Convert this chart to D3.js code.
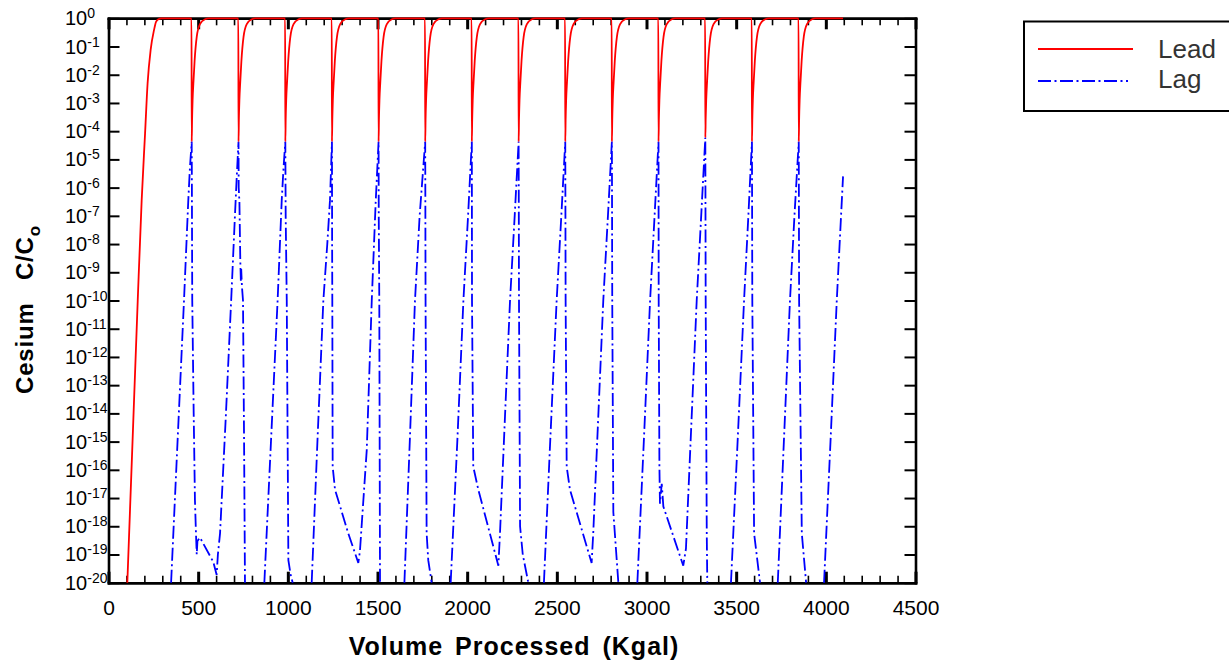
<!DOCTYPE html>
<html>
<head>
<meta charset="utf-8">
<script src="https://cdn.jsdelivr.net/npm/d3@7"></script>
<style>
  body { margin: 0; background: #fff; }
  svg { display: block; font-family: "Liberation Sans", Arial, sans-serif; }
</style>
</head>
<body>
<div id="chart"></div>
<script>
// x ticks (Kgal) and y ticks (decades)
const xTicks = [0, 500, 1000, 1500, 2000, 2500, 3000, 3500, 4000, 4500];
const yTicks = [1e0, 1e-1, 1e-2, 1e-3, 1e-4, 1e-5, 1e-6, 1e-7, 1e-8, 1e-9, 1e-10,
                1e-11, 1e-12, 1e-13, 1e-14, 1e-15, 1e-16, 1e-17, 1e-18, 1e-19, 1e-20];
const seriesNames = ['Lead', 'Lag'];

// Lead column C/Co, [Kgal, value]
const lead = [
  [105, 1e-20], [134, 1e-15], [163, 1e-10], [185, 3.6e-7], [204, 8.5e-5], [218, 5e-3], [235, 7.6e-2], [254, 0.39], [265, 0.75], [278, 0.93], [295, 1],
  [463, 1], [464, 4.3e-5], [466, 2.5e-4], [469, 1.3e-3], [474, 6e-3], [480, 3e-2], [492, 0.22], [510, 0.62], [538, 0.93], [559, 1],
  [724, 1], [725, 4.3e-5], [727, 2.5e-4], [730, 1.3e-3], [735, 6e-3], [741, 3e-2], [753, 0.22], [771, 0.62], [799, 0.93], [820, 1],
  [985, 1], [986, 4.3e-5], [988, 2.5e-4], [991, 1.3e-3], [996, 6e-3], [1002, 3e-2], [1014, 0.22], [1032, 0.62], [1060, 0.93], [1081, 1],
  [1245, 1], [1246, 4.3e-5], [1248, 2.5e-4], [1251, 1.3e-3], [1256, 6e-3], [1262, 3e-2], [1274, 0.22], [1292, 0.62], [1320, 0.93], [1341, 1],
  [1505, 1], [1506, 4.3e-5], [1508, 2.5e-4], [1511, 1.3e-3], [1516, 6e-3], [1522, 3e-2], [1534, 0.22], [1552, 0.62], [1580, 0.93], [1601, 1],
  [1765, 1], [1766, 4.3e-5], [1768, 2.5e-4], [1771, 1.3e-3], [1776, 6e-3], [1782, 3e-2], [1794, 0.22], [1812, 0.62], [1840, 0.93], [1861, 1],
  [2025, 1], [2026, 4.3e-5], [2028, 2.5e-4], [2031, 1.3e-3], [2036, 6e-3], [2042, 3e-2], [2054, 0.22], [2072, 0.62], [2100, 0.93], [2121, 1],
  [2286, 1], [2287, 4.3e-5], [2289, 2.5e-4], [2292, 1.3e-3], [2297, 6e-3], [2303, 3e-2], [2315, 0.22], [2333, 0.62], [2361, 0.93], [2382, 1],
  [2546, 1], [2547, 4.3e-5], [2549, 2.5e-4], [2552, 1.3e-3], [2557, 6e-3], [2563, 3e-2], [2575, 0.22], [2593, 0.62], [2621, 0.93], [2642, 1],
  [2806, 1], [2807, 4.3e-5], [2809, 2.5e-4], [2812, 1.3e-3], [2817, 6e-3], [2823, 3e-2], [2835, 0.22], [2853, 0.62], [2881, 0.93], [2902, 1],
  [3066, 1], [3067, 4.3e-5], [3069, 2.5e-4], [3072, 1.3e-3], [3077, 6e-3], [3083, 3e-2], [3095, 0.22], [3113, 0.62], [3141, 0.93], [3162, 1],
  [3327, 1], [3328, 6e-5], [3330, 2.8e-4], [3333, 1.3e-3], [3338, 6e-3], [3344, 3e-2], [3356, 0.22], [3374, 0.62], [3402, 0.93], [3423, 1],
  [3587, 1], [3588, 4.3e-5], [3590, 2.5e-4], [3593, 1.3e-3], [3598, 6e-3], [3604, 3e-2], [3616, 0.22], [3634, 0.62], [3662, 0.93], [3683, 1],
  [3848, 1], [3849, 4.3e-5], [3851, 2.5e-4], [3854, 1.3e-3], [3859, 6e-3], [3865, 3e-2], [3877, 0.22], [3895, 0.62], [3923, 0.93], [3944, 1],
  [4096, 1]
];

// Lag column C/Co, [Kgal, value]; 1e-24 = below the plotted range
const lag = [
  [349, 1e-20], [385, 1e-15], [421, 1e-10], [445, 3.6e-7], [454, 5e-6], [464, 4.3e-5],
  [465, 1e-6], [467, 1e-10], [475, 1e-14], [482, 8.5e-18], [488, 5e-19], [492, 1e-19], [496, 3e-19], [510, 4e-19], [584, 5.5e-20], [603, 1.9e-20],
  [610, 1e-19], [622, 5.6e-19], [655, 1e-14], [684, 1e-10], [705, 1e-7], [716, 3.2e-6], [725, 4.3e-5],
  [726, 1e-6], [730, 3.2e-7], [735, 2.5e-9], [738, 5e-10], [740, 1.3e-9], [744, 3.2e-10], [750, 1e-10], [756, 1e-15], [761, 1e-20],
  [800, 1e-24],
  [869, 1e-20], [906, 1e-15], [943, 1e-10], [966, 3.6e-7], [976, 5e-6], [986, 4.3e-5],
  [988, 1e-7], [994, 1e-10], [1003, 6.3e-20], [1015, 2e-20], [1027, 1e-20],
  [1080, 1e-24],
  [1133, 1e-20], [1165, 1e-15], [1198, 1e-10], [1220, 1e-8], [1235, 3.6e-7], [1246, 4.3e-5],
  [1247, 1e-8], [1248, 1e-10], [1250, 1.3e-16], [1263, 2e-17], [1337, 5.6e-19], [1393, 5e-20], [1402, 1.3e-19], [1440, 5e-16], [1468, 1e-10], [1490, 3.2e-7], [1506, 4.3e-5],
  [1507, 1e-7], [1510, 1e-10], [1514, 1e-20],
  [1580, 1e-24],
  [1650, 1e-20], [1680, 1e-15], [1709, 1e-10], [1735, 1e-7], [1766, 4.3e-5],
  [1767, 1e-7], [1768, 1e-10], [1774, 5.6e-19], [1783, 6.3e-20], [1802, 1e-20],
  [1850, 1e-24],
  [1908, 1e-20], [1945, 1e-15], [1979, 1e-10], [2005, 1e-7], [2026, 4.3e-5],
  [2027, 1e-10], [2034, 1.3e-16], [2062, 2e-17], [2174, 4e-20], [2183, 5.6e-19], [2211, 8e-15], [2239, 1e-10], [2265, 1e-7], [2287, 4.3e-5],
  [2288, 1e-7], [2289, 1e-10], [2295, 1e-18], [2310, 1e-19], [2341, 1e-20],
  [2380, 1e-24],
  [2428, 1e-20], [2463, 1e-15], [2499, 1e-10], [2525, 1e-7], [2547, 4.3e-5],
  [2548, 1e-7], [2549, 1e-10], [2555, 1.3e-16], [2573, 2e-17], [2694, 5e-20], [2703, 5.6e-19], [2759, 1e-10], [2785, 1e-7], [2807, 4.3e-5],
  [2808, 1e-7], [2809, 1e-10], [2815, 3.2e-18], [2843, 1e-20],
  [2900, 1e-24],
  [2949, 1e-20], [2985, 1e-15], [3020, 1e-10], [3045, 1e-7], [3067, 4.3e-5],
  [3068, 1e-10], [3072, 1.3e-16], [3075, 6.3e-18], [3085, 3.2e-17], [3094, 5e-18], [3205, 4e-20], [3220, 1.6e-19], [3280, 1e-10], [3305, 1e-7], [3328, 6e-5],
  [3329, 1e-7], [3330, 1e-10], [3336, 5.6e-19], [3339, 1e-20],
  [3400, 1e-24],
  [3471, 1e-20], [3508, 1e-15], [3544, 1e-10], [3568, 1e-7], [3588, 4.3e-5],
  [3589, 1e-7], [3590, 1e-10], [3600, 5.6e-19], [3633, 1e-20],
  [3680, 1e-24],
  [3732, 1e-20], [3766, 1e-15], [3800, 1e-10], [3825, 1e-7], [3849, 4.3e-5],
  [3850, 1e-7], [3851, 1e-10], [3866, 5.6e-19], [3890, 1e-20],
  [3940, 1e-24],
  [3990, 1e-20], [4026, 1e-15], [4061, 1e-10], [4096, 2.5e-6]
];

const width = 1229;
const height = 670;
const margin = {top: 18.3, right: 313.5, bottom: 87.3, left: 108.5};

const svg = d3.create('svg')
  .attr('width', width)
  .attr('height', height);

const x = d3.scaleLinear()
  .domain([0, 4500])
  .range([margin.left, width - margin.right]);

const y = d3.scaleLog()
  .domain([1e-20, 1])
  .range([height - margin.bottom, margin.top]);

const x0 = x.range()[0], x1 = x.range()[1];
const yb = y.range()[0], yt = y.range()[1];

function styleAxis(g, tickWidth) {
  g.select('.domain').attr('stroke', '#000').attr('stroke-width', 2.6).attr('stroke-linecap', 'square');
  g.selectAll('.tick line').attr('stroke', '#000').attr('stroke-width', tickWidth);
}

// minor x ticks (bottom + top)
svg.append('g')
  .attr('transform', `translate(0,${yb})`)
  .call(d3.axisBottom(x).tickValues(x.ticks(45)).tickSize(-7).tickSizeOuter(0).tickFormat(''))
  .call(g => styleAxis(g, 1.6));
svg.append('g')
  .attr('transform', `translate(0,${yt})`)
  .call(d3.axisTop(x).tickValues(x.ticks(45)).tickSize(-7).tickSizeOuter(0).tickFormat(''))
  .call(g => styleAxis(g, 1.6));

// major x ticks
svg.append('g')
  .attr('transform', `translate(0,${yb})`)
  .call(d3.axisBottom(x).tickValues(xTicks).tickSize(-11).tickSizeOuter(0).tickPadding(17.4).tickFormat(d3.format('d')))
  .call(g => styleAxis(g, 3))
  .call(g => g.selectAll('.tick text').attr('font-size', 21).attr('font-family', '"Liberation Sans", Arial, sans-serif').attr('fill', '#000'));
svg.append('g')
  .attr('transform', `translate(0,${yt})`)
  .call(d3.axisTop(x).tickValues(xTicks).tickSize(-11).tickSizeOuter(0).tickFormat(''))
  .call(g => styleAxis(g, 3));

// y axes, left and right, ticks inward
svg.append('g')
  .attr('transform', `translate(${x0},0)`)
  .call(d3.axisLeft(y).tickValues(yTicks).tickSize(-11).tickSizeOuter(0).tickFormat(''))
  .call(g => styleAxis(g, 2));
svg.append('g')
  .attr('transform', `translate(${x1},0)`)
  .call(d3.axisRight(y).tickValues(yTicks).tickSize(-11).tickSizeOuter(0).tickFormat(''))
  .call(g => styleAxis(g, 2));

// y tick labels as 10^n
svg.append('g')
  .selectAll('text')
  .data(yTicks)
  .join('text')
  .attr('x', 65)
  .attr('y', d => y(d) + 7)
  .attr('font-size', 20)
  .attr('fill', '#000')
  .each(function(d) {
    const t = d3.select(this);
    t.append('tspan').text('10');
    t.append('tspan').attr('dy', -7).attr('font-size', 14).text(Math.round(Math.log10(d)));
  });

// series
const line = d3.line()
  .defined(d => d[1] >= 1e-20)
  .x(d => x(d[0]))
  .y(d => y(d[1]));

svg.append('path')
  .datum(lag)
  .attr('fill', 'none')
  .attr('stroke', '#0000ff')
  .attr('stroke-width', 1.8)
  .attr('stroke-dasharray', '13,3.5,2,3.5')
  .attr('d', line);

svg.append('path')
  .datum(lead)
  .attr('fill', 'none')
  .attr('stroke', '#ff0000')
  .attr('stroke-width', 1.8)
  .attr('d', line.curve(d3.curveMonotoneX));

// axis titles
svg.append('text')
  .attr('x', (x0 + x1) / 2 + 2)
  .attr('y', 655)
  .attr('text-anchor', 'middle')
  .attr('font-size', 25)
  .attr('font-weight', 'bold')
  .attr('letter-spacing', 1)
  .attr('word-spacing', 4)
  .attr('fill', '#000')
  .text('Volume Processed (Kgal)');

const yTitle = svg.append('text')
  .attr('transform', `translate(33, ${(yt + yb) / 2 + 9}) rotate(-90)`)
  .attr('text-anchor', 'middle')
  .attr('font-size', 24)
  .attr('font-weight', 'bold')
  .attr('letter-spacing', 0.8)
  .attr('fill', '#000')
  .style('white-space', 'pre');
yTitle.append('tspan').text('Cesium   C/C');
yTitle.append('tspan').attr('dy', 7).attr('font-size', 17).text('o');

// legend
const legend = svg.append('g');
legend.append('rect')
  .attr('x', 1024).attr('y', 21.5)
  .attr('width', 230).attr('height', 89.5)
  .attr('fill', 'none').attr('stroke', '#000').attr('stroke-width', 2);

const legendRows = [
  {name: seriesNames[0], color: '#ff0000', dash: null, len: 95, ly: 49, ty: 57.7},
  {name: seriesNames[1], color: '#0000ff', dash: '13,3.5,2,3.5', len: 90, ly: 81, ty: 88.3}
];
legendRows.forEach(r => {
  legend.append('line')
    .attr('x1', 1038).attr('x2', 1038 + r.len)
    .attr('y1', r.ly).attr('y2', r.ly)
    .attr('stroke', r.color).attr('stroke-width', 1.8)
    .attr('stroke-dasharray', r.dash);
  legend.append('text')
    .attr('x', 1158).attr('y', r.ty)
    .attr('font-size', 26)
    .attr('fill', '#333')
    .text(r.name);
});

document.getElementById('chart').appendChild(svg.node());
</script>
</body>
</html>
